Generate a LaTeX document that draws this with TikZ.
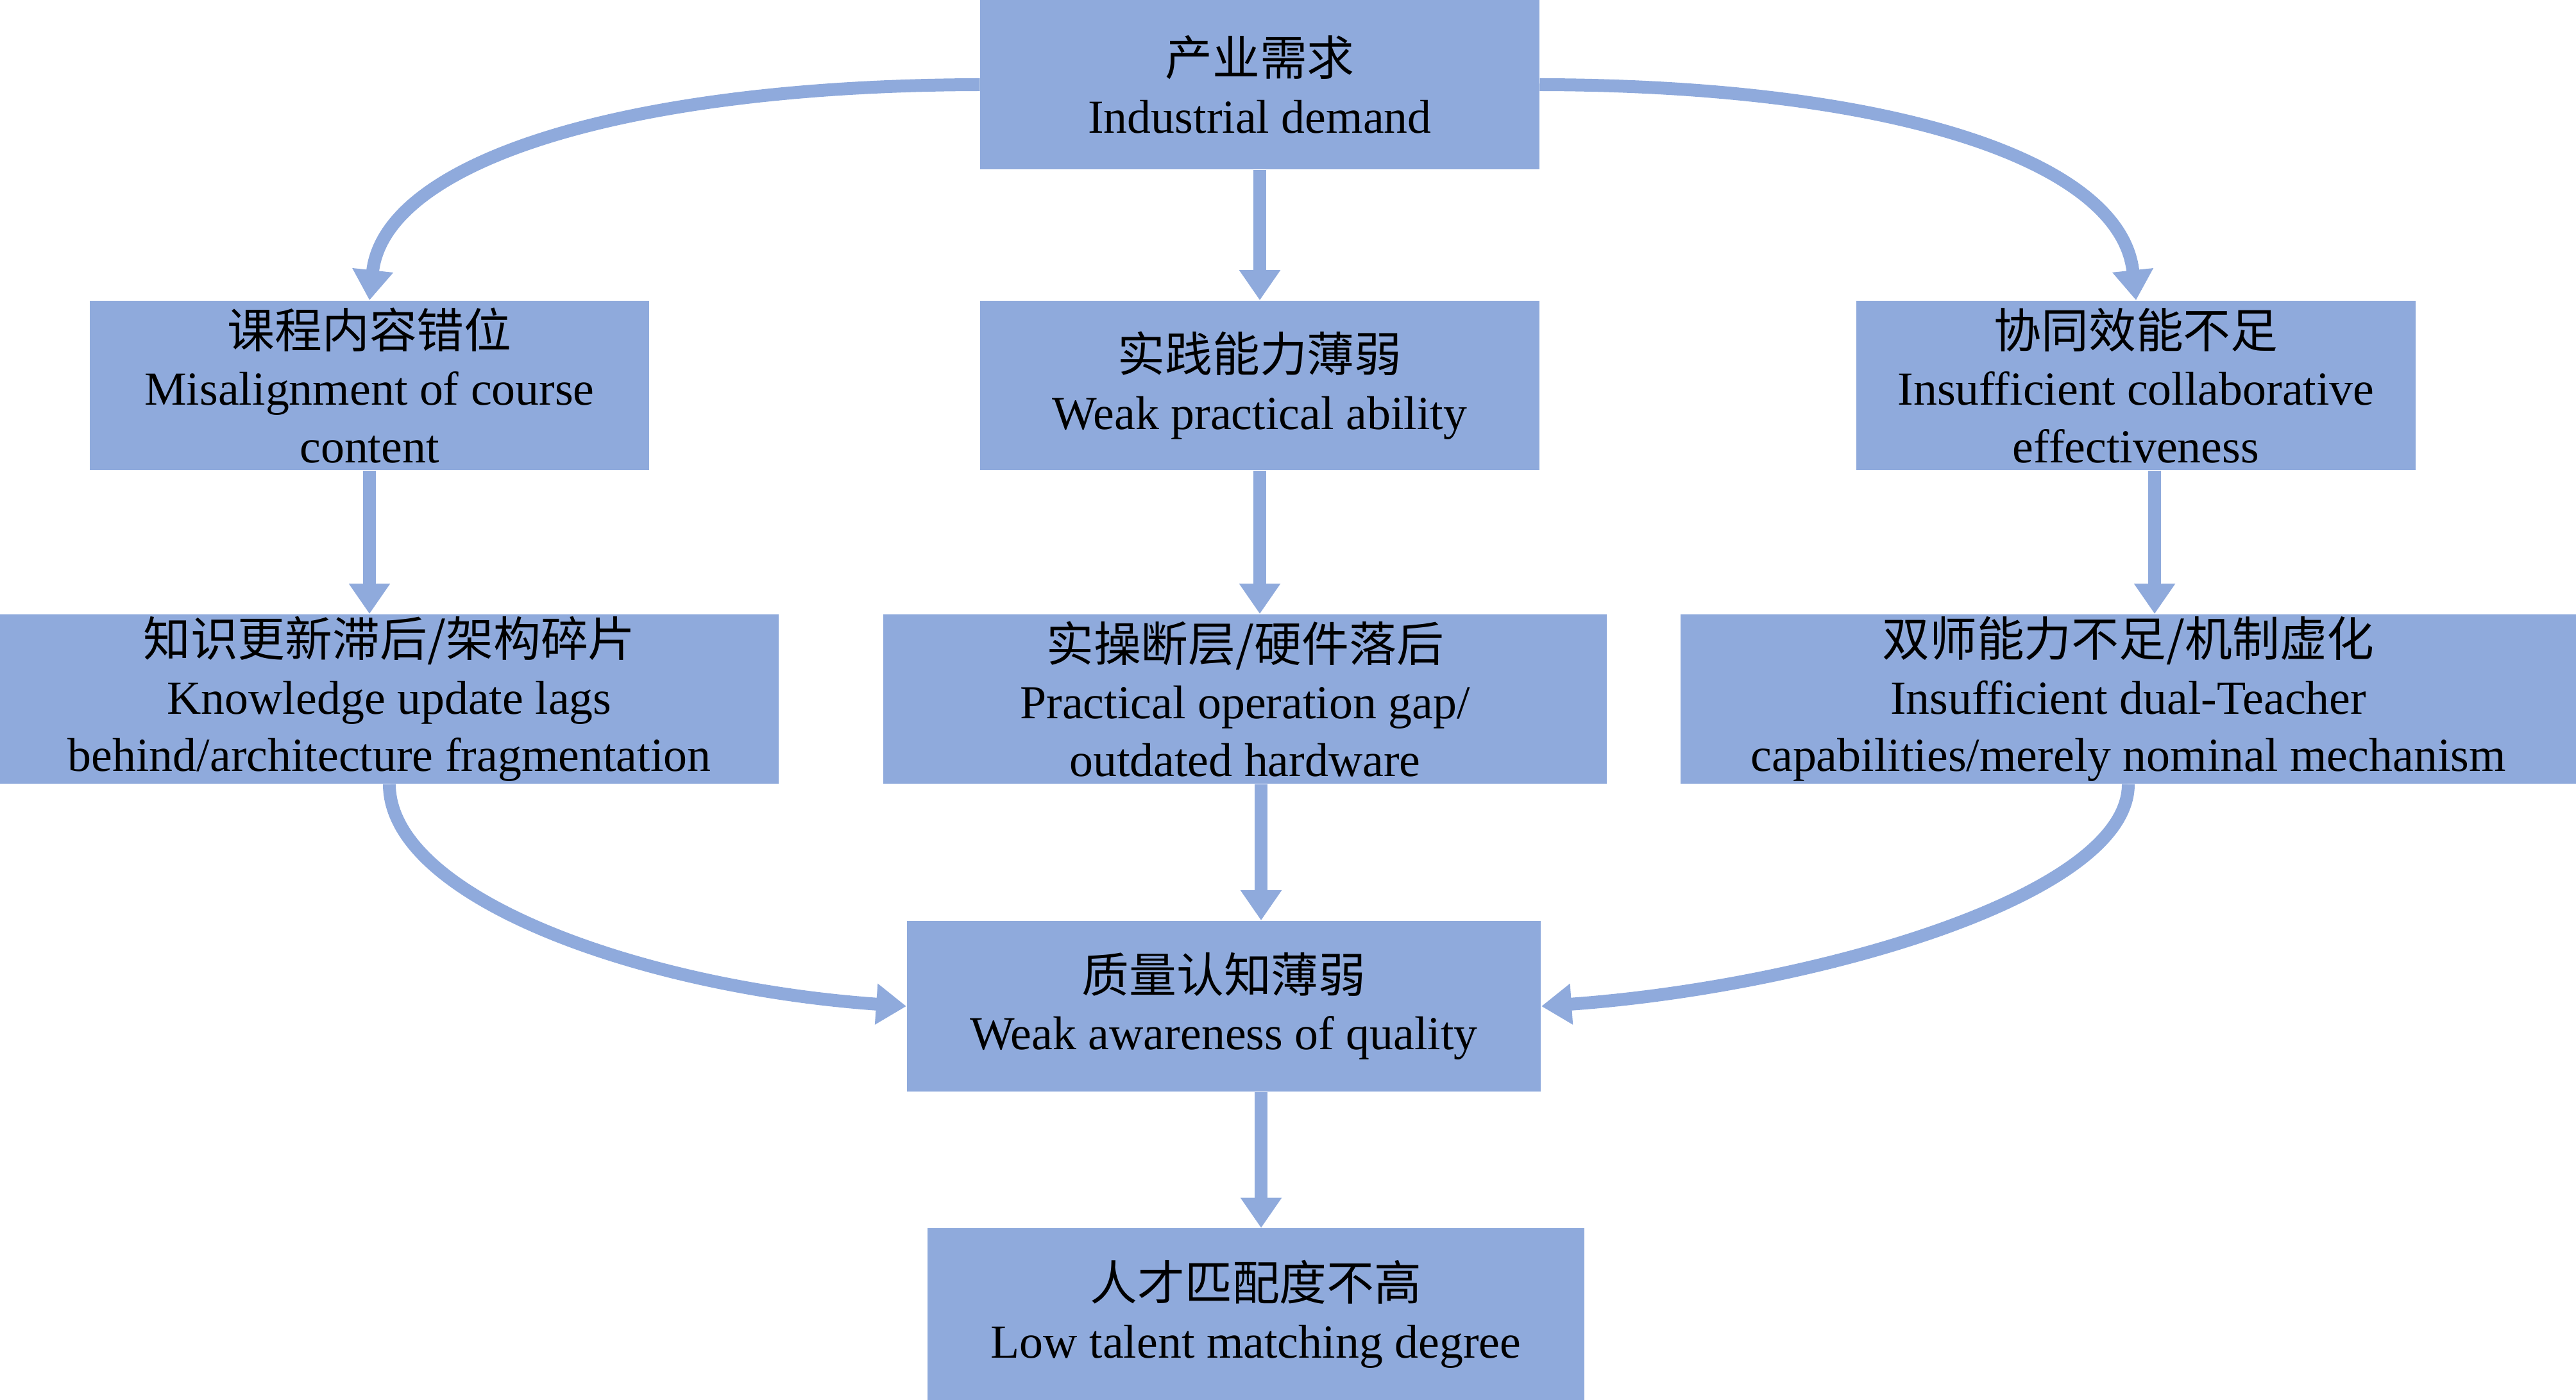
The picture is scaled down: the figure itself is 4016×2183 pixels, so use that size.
\documentclass[tikz,border=0pt]{standalone}
\usepackage{fontspec}
\setmainfont{Liberation Serif}
\newfontfamily\cjk{Noto Sans CJK SC}
\usetikzlibrary{arrows.meta, positioning}
\definecolor{boxblue}{HTML}{8FAADC}

\begin{document}
\begin{tikzpicture}[x=0.01cm, y=-0.01cm,
    blockbox/.style={rectangle, fill=boxblue, inner sep=0pt, align=center, minimum height=2.64cm, font=\fontsize{21}{25.5}\selectfont},
    flow/.style={draw=boxblue, line width=0.2cm, -{Triangle[width=0.61cm, length=0.47cm]}}]
    \useasboundingbox (0,0) rectangle (4016,2183);
    \node[blockbox, minimum width=8.71cm] at (1964,132) (demand) {{\cjk 产业需求}\\Industrial demand};
    \node[blockbox, minimum width=8.71cm] at (576,601) (course) {{\cjk 课程内容错位}\\Misalignment of course\\content};
    \node[blockbox, minimum width=8.71cm] at (1964,601) (practice) {{\cjk 实践能力薄弱}\\Weak practical ability};
    \node[blockbox, minimum width=8.71cm] at (3330,601) (collab) {{\cjk 协同效能不足}\\Insufficient collaborative\\effectiveness};
    \node[blockbox, minimum width=12.14cm] at (607,1090) (knowledge) {{\cjk 知识更新滞后/架构碎片}\\Knowledge update lags\\behind/architecture fragmentation};
    \node[blockbox, minimum width=11.27cm] at (1941,1090) (hardware) {{\cjk 实操断层/硬件落后}\\Practical operation gap/\\outdated hardware};
    \node[blockbox, minimum width=13.96cm] at (3318,1090) (teacher) {{\cjk 双师能力不足/机制虚化}\\Insufficient dual-Teacher\\capabilities/merely nominal mechanism};
    \node[blockbox, minimum width=9.88cm, minimum height=2.66cm] at (1908,1569) (quality) {{\cjk 质量认知薄弱}\\Weak awareness of quality};
    \node[blockbox, minimum width=10.24cm, minimum height=2.67cm] at (1958,2049) (talent) {{\cjk 人才匹配度不高}\\Low talent matching degree};
    % straight links
    \draw[flow] (demand) -- (practice);
    \draw[flow] (course.south) -- (course.south |- knowledge.north);
    \draw[flow] (practice.south) -- (practice.south |- hardware.north);
    \draw[flow] ([xshift=0.29cm]collab.south) -- ([xshift=0.29cm]collab.south |- teacher.north);
    \draw[flow] ([xshift=0.25cm]hardware.south) -- ([xshift=0.25cm]hardware.south |- quality.north);
    \draw[flow] ([xshift=0.58cm]quality.south) -- ([xshift=0.58cm]quality.south |- talent.north);
    % curved links
    \draw[flow] (demand.west) .. controls (980,133) and (600,250) .. (course.north);
    \draw[flow] (demand.east) .. controls (2949,133) and (3307,250) .. (collab.north);
    \draw[flow] (knowledge.south) .. controls (607,1400) and (1000,1540) .. (quality.west);
    \draw[flow] (teacher.south) .. controls (3318,1400) and (2814,1540) .. (quality.east);
\end{tikzpicture}
\end{document}
